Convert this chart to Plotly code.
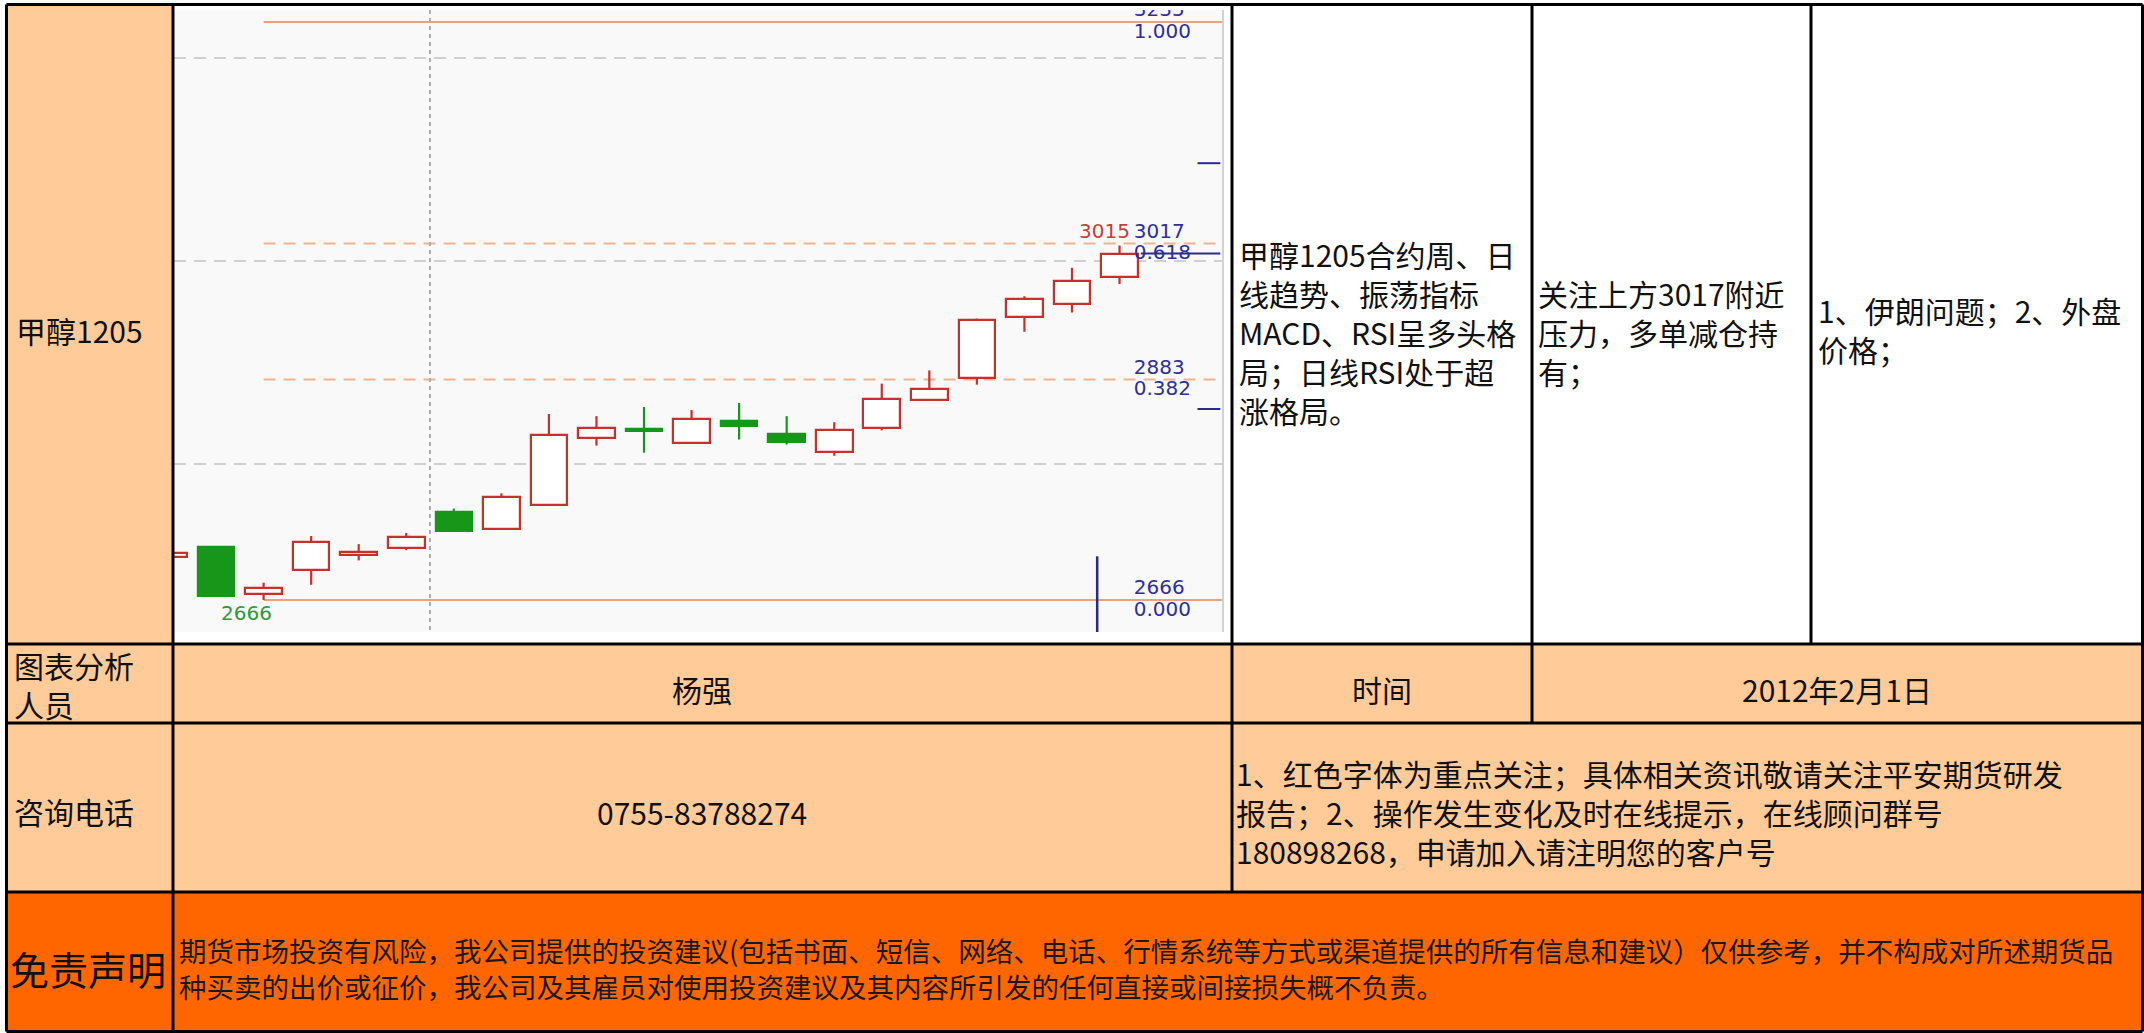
import plotly.graph_objects as go

W, H = 2144, 1033

# ---------------- data ----------------
candle_idx = list(range(21))
opens  = [2708, 2718, 2672, 2696, 2710, 2717, 2753, 2736, 2760, 2825, 2834, 2821, 2842, 2829, 2812, 2835, 2863, 2885, 2945, 2957, 2984]
highs  = [2714, 2718, 2683, 2729, 2721, 2732, 2756, 2771, 2849, 2847, 2856, 2853, 2860, 2847, 2841, 2879, 2892, 2943, 2965, 2993, 3015]
lows   = [2705, 2669, 2666, 2681, 2705, 2715, 2734, 2735, 2759, 2818, 2811, 2821, 2824, 2819, 2808, 2833, 2863, 2878, 2930, 2949, 2977]
closes = [2712, 2670, 2678, 2723, 2713, 2728, 2734, 2767, 2828, 2835, 2832, 2844, 2837, 2822, 2833, 2864, 2874, 2942, 2962, 2980, 3007]

fib_prices = [3235, 3017, 2883, 2666]
fib_ratios = ["1.000", "0.618", "0.382", "0.000"]
fib_styles = ["solid", "dash", "dash", "solid"]
fib_start = 2            # candle index of the swing low
grid_prices = [2800, 3000, 3200]
separator_idx = [5.5]
axis_marks = [3096, 2854]
last_mark = 3007
cursor_x = 19.53
cursor_top = 2709

title_cell = "甲醇1205"
analysis_text = "甲醇1205合约周、日<br>线趋势、振荡指标<br>MACD、RSI呈多头格<br>局；日线RSI处于超<br>涨格局。"
advice_text = "关注上方3017附近<br>压力，多单减仓持<br>有；"
factor_text = "1、伊朗问题；2、外盘<br>价格；"
row2_labels = ["图表分析<br>人员", "杨强", "时间", "2012年2月1日"]
row3_labels = ["咨询电话", "0755-83788274",
               "1、红色字体为重点关注；具体相关资讯敬请关注平安期货研发<br>报告；2、操作发生变化及时在线提示，在线顾问群号<br>180898268，申请加入请注明您的客户号"]
disclaimer_title = "免责声明"
disclaimer_text = ("期货市场投资有风险，我公司提供的投资建议(包括书面、短信、网络、电话、行情系统等方式或渠道提供的所有信息和建议）仅供参考，并不构成对所述期货品"
                   "<br>种买卖的出价或征价，我公司及其雇员对使用投资建议及其内容所引发的任何直接或间接损失概不负责。")

# ---------------- styles ----------------
RED = "#C8302C"
GREEN = "#17971A"
BLUE = "#2E2E9C"
PEACH = "#FFCC99"
ORANGE = "#FF6600"
CJK = "Noto Sans CJK SC"
X_RANGE = [0.1157, 22.155]
Y_RANGE = [2634.5, 3246.8]


def px(x):
    return x / W


def py(y):
    return 1 - y / H


fig = go.Figure()

# candle bodies
up = [c >= o for o, c in zip(opens, closes)]
bases = [min(o, c) for o, c in zip(opens, closes)]
heights = [max(abs(c - o), 1) for o, c in zip(opens, closes)]
fig.add_trace(go.Bar(
    x=candle_idx, y=heights, base=bases, width=0.77,
    marker=dict(color=["#FFFFFF" if u else GREEN for u in up],
                line=dict(color=[RED if u else GREEN for u in up], width=2.2)),
    hoverinfo="skip"))

# wicks
for want_up, col in [(True, RED), (False, GREEN)]:
    xs, ys = [], []
    for i, o, h, l, c, u in zip(candle_idx, opens, highs, lows, closes, up):
        if u != want_up:
            continue
        top, bot = max(o, c), min(o, c)
        if h > top:
            xs += [i, i, None]
            ys += [top, h, None]
        if l < bot:
            xs += [i, i, None]
            ys += [l, bot, None]
    fig.add_trace(go.Scatter(x=xs, y=ys, mode="lines", line=dict(color=col, width=2.2),
                             hoverinfo="skip"))

# fibonacci labels
lab_off = 10.5
label_x = 20.30
LBL = dict(family="DejaVu Sans", size=20)
fig.add_trace(go.Scatter(
    x=[label_x] * len(fib_prices) * 2,
    y=[p + lab_off for p in fib_prices] + [p - lab_off for p in fib_prices],
    text=[str(p) for p in fib_prices] + fib_ratios,
    mode="text", textposition="middle right", cliponaxis=True,
    textfont=dict(LBL, color=BLUE), hoverinfo="skip"))
fig.add_trace(go.Scatter(
    x=[19.15], y=[fib_prices[1] + lab_off], text=[str(max(highs))],
    mode="text", textposition="middle right", cliponaxis=True,
    textfont=dict(LBL, color="#C83C3C"), hoverinfo="skip"))
fig.add_trace(go.Scatter(
    x=[1.104], y=[min(lows) - 14.5], text=[str(min(lows))],
    mode="text", textposition="middle right", cliponaxis=True,
    textfont=dict(LBL, color="#2E9A3A"), hoverinfo="skip"))

shapes = []
# table fills
fills = [
    (5, 5, 173, 892, PEACH),
    (173, 644, 2142, 892, PEACH),
    (5, 892, 2142, 1031, ORANGE),
]
for x0, y0, x1, y1, col in fills:
    shapes.append(dict(type="rect", xref="paper", yref="paper", x0=px(x0), x1=px(x1),
                       y0=py(y0), y1=py(y1), fillcolor=col, line=dict(width=0), layer="below"))

# fibonacci lines
for p, st in zip(fib_prices, fib_styles):
    shapes.append(dict(type="line", xref="x", yref="y", x0=fib_start, x1=X_RANGE[1], y0=p, y1=p,
                       line=dict(color="#E9A47C" if st == "solid" else "#EDB48E", width=2,
                                 dash="solid" if st == "solid" else "12px,8px"),
                       layer="below"))
# right axis marks
for p in axis_marks:
    shapes.append(dict(type="line", xref="x", yref="y", x0=21.64, x1=22.12, y0=p, y1=p,
                       line=dict(color="#2B2B8A", width=2)))
shapes.append(dict(type="line", xref="x", yref="y", x0=20.45, x1=22.12, y0=last_mark, y1=last_mark,
                   line=dict(color="#2B2B8A", width=2)))
# cursor line
shapes.append(dict(type="line", xref="x", yref="y", x0=cursor_x, x1=cursor_x, y0=cursor_top, y1=Y_RANGE[0],
                   line=dict(color="#2B2B7A", width=2.5)))

# table borders
B = dict(color="black", width=3)
borders = [
    (6.5, 4.5, 2142.5, 4.5), (6.5, 1031.5, 2142.5, 1031.5),
    (6.5, 4.5, 6.5, 1031.5), (2142.5, 4.5, 2142.5, 1031.5),
    (173, 4.5, 173, 1031.5), (1232, 4.5, 1232, 892), (1532, 4.5, 1532, 723), (1811, 4.5, 1811, 644),
    (6.5, 644, 2142.5, 644), (6.5, 723, 2142.5, 723), (6.5, 892, 2142.5, 892),
]
for x0, y0, x1, y1 in borders:
    shapes.append(dict(type="line", xref="paper", yref="paper", x0=px(x0), x1=px(x1),
                       y0=py(y0), y1=py(y1), line=B, layer="above"))

ann = []


def text(t, x, y, size=30, xanchor="left", align="left", color="#111111"):
    ann.append(dict(text=t, x=px(x), y=py(y), xref="paper", yref="paper", showarrow=False,
                    xanchor=xanchor, yanchor="middle", align=align,
                    font=dict(family=CJK, size=size, color=color)))


text(title_cell, 14, 330)
text(analysis_text, 1237, 332)
text(advice_text, 1536, 332)
text(factor_text, 1816, 330)
text(row2_labels[0], 12, 684)
text(row2_labels[1], 702, 689, xanchor="center", align="center")
text(row2_labels[2], 1382, 689, xanchor="center", align="center")
text(row2_labels[3], 1837, 689, xanchor="center", align="center")
text(row3_labels[0], 12, 811)
text(row3_labels[1], 702, 812, xanchor="center", align="center")
text(row3_labels[2], 1234, 812)
text(disclaimer_title, 8, 968, size=39)
text(disclaimer_text, 177, 968, size=27.5, color="#1A1A1A")

fig.update_layout(
    width=W, height=H, margin=dict(l=0, r=0, t=0, b=0, pad=0),
    paper_bgcolor="white", plot_bgcolor="#F9F9F9", showlegend=False,
    shapes=shapes, annotations=ann, bargap=0,
    xaxis=dict(domain=[px(174), px(1222)], range=X_RANGE, tickvals=separator_idx,
               showgrid=True, gridcolor="#ADADAD", griddash="4px,4px", gridwidth=2,
               showticklabels=False, ticks="", zeroline=False, showline=False, fixedrange=True),
    yaxis=dict(domain=[py(632), py(10)], range=Y_RANGE, tickvals=grid_prices, side="right",
               showgrid=True, gridcolor="#D0D0D0", griddash="12px,8px", gridwidth=2,
               showticklabels=False, ticks="", zeroline=False,
               showline=True, linecolor="#D2D2D2", linewidth=2, fixedrange=True),
)

fig.write_html("out.html", config={"displayModeBar": False},
               post_script="document.body.style.margin='0px';document.body.style.overflow='hidden';")
